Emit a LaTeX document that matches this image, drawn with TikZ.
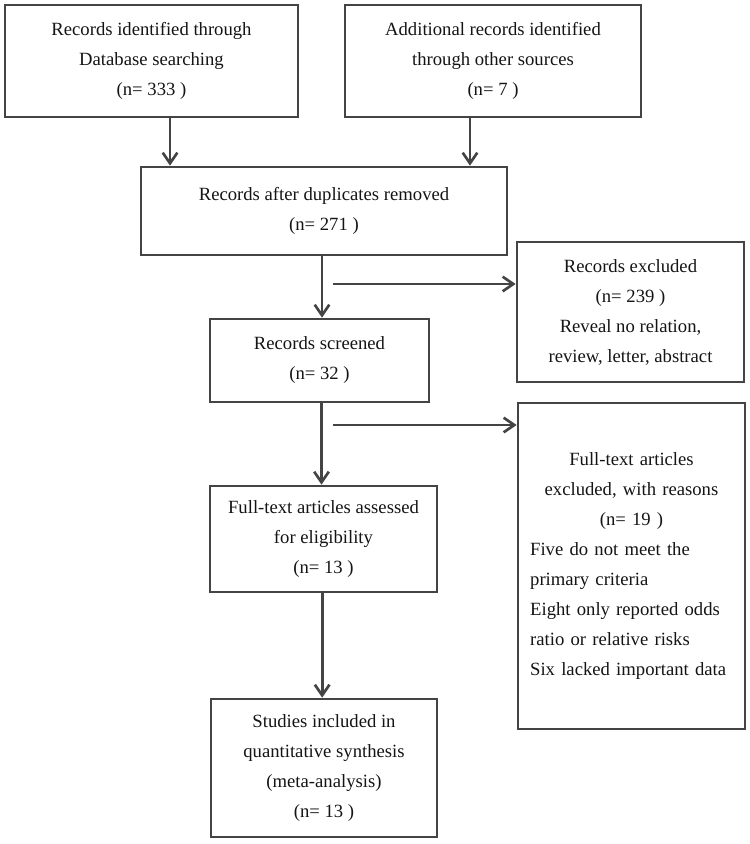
\documentclass[tikz,border=0pt]{standalone}
\usepackage{fontspec}
\setmainfont{Liberation Serif}
\usetikzlibrary{arrows.meta}
\definecolor{linegray}{RGB}{68,68,68}
\definecolor{textgray}{RGB}{20,20,20}

\begin{document}
\begin{tikzpicture}[x=0.75pt,y=-0.75pt,
  box/.style={draw=linegray, line width=2pt, rectangle, align=center, inner sep=0pt,
    text=textgray, font=\fontsize{14}{22.5}\selectfont},
  arr/.style={draw=linegray, line width=2pt, -{Straight Barb[length=8pt,width=11pt]}}]
\useasboundingbox (0,0) rectangle (750,844);
% identification
\node[box, minimum width=219.75pt, minimum height=84pt] (db) at (151.5,61)
  {Records identified through\\Database searching\\(n= 333 )};
\node[box, minimum width=222pt, minimum height=84pt] (other) at (493,61)
  {Additional records identified\\through other sources\\(n= 7 )};
\node[box, minimum width=274.5pt, minimum height=66pt] (dup) at (324,211)
  {Records after duplicates removed\\(n= 271 )};
% screening
\node[box, minimum width=170.25pt, minimum height=105pt] (excl) at (630.5,312)
  {Records excluded\\(n= 239 )\\Reveal no relation,\\review, letter, abstract};
\node[box, minimum width=164.25pt, minimum height=62.25pt] (screen) at (319.5,360.5)
  {Records screened\\(n= 32 )};
% eligibility
\node[box, minimum width=170.25pt, minimum height=244.5pt, text width=152pt, align=left] (ftexcl) at (631.5,566)
  {{\centering Full-text articles\\excluded, with reasons\\(n= 19 )\par}Five do not meet the\\primary criteria\\Eight only reported odds\\ratio or relative risks\\Six lacked important data};
\node[box, minimum width=170.25pt, minimum height=79.5pt] (elig) at (323.5,539)
  {Full-text articles assessed\\for eligibility\\(n= 13 )};
% included
\node[box, minimum width=169.5pt, minimum height=103.5pt] (incl) at (324,768)
  {Studies included in\\quantitative synthesis\\(meta-analysis)\\(n= 13 )};
\coordinate (s1) at (333,284);
\coordinate (s2) at (333,425);
\path[arr] ([xshift=13.9pt]db.south) -- ([xshift=13.9pt]db.south |- dup.north);
\path[arr] ([xshift=-17.25pt]other.south) -- ([xshift=-17.25pt]other.south |- dup.north);
\path[arr] ([xshift=-1.5pt]dup.south) -- ([xshift=-1.5pt]dup.south |- screen.north);
\path[arr] (s1) -- (s1 -| excl.west);
\path[arr] ([xshift=1.5pt]screen.south) -- ([xshift=1.5pt]screen.south |- elig.north);
\path[arr] (s2) -- (s2 -| ftexcl.west);
\path[arr] ([xshift=-1pt]elig.south) -- ([xshift=-1pt]elig.south |- incl.north);
\end{tikzpicture}
\end{document}
